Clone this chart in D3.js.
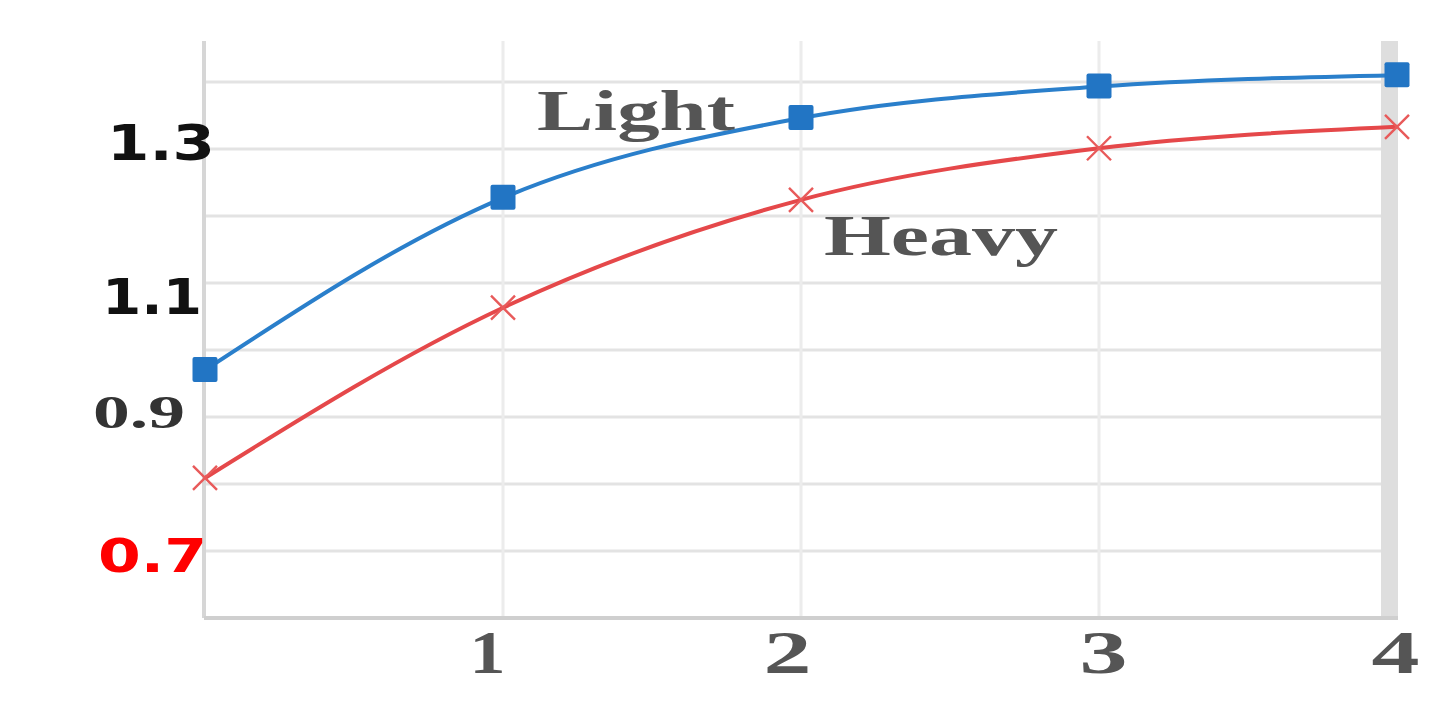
<!DOCTYPE html>
<html><head><meta charset="utf-8">
<script src="https://cdn.jsdelivr.net/npm/d3@7"></script>
<style>html,body{margin:0;padding:0;background:#fff;overflow:hidden}</style>
</head><body>
<svg id="c" width="1447" height="714"></svg>
<script>
// ---- data ----
const xValues = [0, 1, 2, 3, 4];
const lightValues = [0.970, 1.227, 1.346, 1.393, 1.410];
const heavyValues = [0.809, 1.063, 1.224, 1.301, 1.333];
const xTickLabels = ["1", "2", "3", "4"];
const xTickValues = [1, 2, 3, 4];
const yTickValues = [0.7, 0.9, 1.1, 1.3];
const yGridValues = [0.7, 0.8, 0.9, 1.0, 1.1, 1.2, 1.3, 1.4];
const seriesNames = ["Light", "Heavy"];

// ---- styles (kept apart from data) ----
const yLabelStyle = {
  "1.3": {fill:"#111", font:"DejaVu Sans", size:50, dx:10, dy:-7, len:108},
  "1.1": {fill:"#111", font:"DejaVu Sans", size:49, dx:-3, dy:13, len:100},
  "0.9": {fill:"#333", font:"Liberation Serif", size:47, dx:-20, dy:-6, len:92},
  "0.7": {fill:"#ff0000", font:"DejaVu Sans", size:47, dx:2, dy:4, len:109}
};

const svg = d3.select("#c");
const x = d3.scaleLinear().domain([0, 4]).range([205, 1397]);
const y = d3.scaleLinear().domain([0.6, 1.461]).range([618, 41]);

// horizontal grid
svg.append("g").selectAll("line").data(yGridValues).join("line")
  .attr("x1", x(0)).attr("x2", 1382)
  .attr("y1", d => y(d)).attr("y2", d => y(d))
  .attr("stroke", "#e3e3e3").attr("stroke-width", 3);

// vertical grid
svg.append("g").selectAll("line").data([1, 2, 3]).join("line")
  .attr("x1", d => x(d)).attr("x2", d => x(d))
  .attr("y1", y.range()[1]).attr("y2", y.range()[0])
  .attr("stroke", "#ececec").attr("stroke-width", 3);

// right border band
svg.append("rect").attr("x", 1381).attr("y", y.range()[1])
  .attr("width", 17).attr("height", y.range()[0] - y.range()[1])
  .attr("fill", "#dedede");

// left axis line & bottom axis line
svg.append("line").attr("x1", 204).attr("x2", 204)
  .attr("y1", y.range()[1]).attr("y2", y.range()[0])
  .attr("stroke", "#d6d6d6").attr("stroke-width", 4);
svg.append("line").attr("x1", 204).attr("x2", 1398)
  .attr("y1", y.range()[0]).attr("y2", y.range()[0])
  .attr("stroke", "#cfcfcf").attr("stroke-width", 4);

// Y axis labels via d3 axis
const yAxis = svg.append("g").attr("transform", "translate(205,0)")
  .call(d3.axisLeft(y).tickValues(yTickValues).tickSize(0).tickPadding(0).tickFormat(d3.format(".1f")));
yAxis.select(".domain").remove();
yAxis.selectAll(".tick text").each(function(d) {
  const k = d3.format(".1f")(d);
  const s = yLabelStyle[k];
  d3.select(this)
    .attr("fill", s.fill).attr("font-family", s.font).attr("font-weight", "bold")
    .attr("font-size", s.size).attr("text-anchor", "end")
    .attr("x", s.dx).attr("dy", "0.36em")
    .attr("transform", `translate(0,${s.dy})`)
    .attr("textLength", s.len).attr("lengthAdjust", "spacingAndGlyphs");
});

// X axis labels via d3 axis
const xAxis = svg.append("g").attr("transform", `translate(0,${y.range()[0]})`)
  .call(d3.axisBottom(x).tickValues(xTickValues).tickSize(0).tickPadding(0)
    .tickFormat((d, i) => xTickLabels[i]));
xAxis.select(".domain").remove();
const xOff = {1:-16, 2:-14, 3:4, 4:-2};
xAxis.selectAll(".tick text")
  .attr("fill", "#555").attr("font-family", "Liberation Serif").attr("font-weight", "bold")
  .attr("font-size", 62).attr("dy", 0).attr("y", 55)
  .attr("x", d => xOff[d])
  .attr("textLength", (d) => d === 1 ? 36 : 48).attr("lengthAdjust", "spacingAndGlyphs");

// lines
const line = d3.line().x((d, i) => x(xValues[i])).y(d => y(d)).curve(d3.curveMonotoneX);
svg.append("path").datum(heavyValues).attr("d", line)
  .attr("fill", "none").attr("stroke", "#e5484a").attr("stroke-width", 4);
svg.append("path").datum(lightValues).attr("d", line)
  .attr("fill", "none").attr("stroke", "#2a7fcb").attr("stroke-width", 4);

// markers
svg.append("g").selectAll("rect").data(lightValues).join("rect")
  .attr("x", (d, i) => x(xValues[i]) - 12.5).attr("y", d => y(d) - 13)
  .attr("width", 25).attr("height", 25).attr("rx", 2)
  .attr("fill", "#2275c4");
svg.append("g").selectAll("path").data(heavyValues).join("path")
  .attr("d", (d, i) => {
    const cx = x(xValues[i]), cy = y(d), r = 12;
    return `M${cx-r},${cy-r}L${cx+r},${cy+r}M${cx-r},${cy+r}L${cx+r},${cy-r}`;
  })
  .attr("stroke", "#e85a5a").attr("stroke-width", 2.4).attr("fill", "none");

// series labels
svg.append("text").text(seriesNames[0])
  .attr("x", 537).attr("y", 130)
  .attr("font-family", "Liberation Serif").attr("font-weight", "bold")
  .attr("font-size", 56).attr("fill", "#555")
  .attr("textLength", 198).attr("lengthAdjust", "spacingAndGlyphs");
svg.append("text").text(seriesNames[1])
  .attr("x", 824).attr("y", 255)
  .attr("font-family", "Liberation Serif").attr("font-weight", "bold")
  .attr("font-size", 57).attr("fill", "#555")
  .attr("textLength", 234).attr("lengthAdjust", "spacingAndGlyphs");
</script>
</body></html>
